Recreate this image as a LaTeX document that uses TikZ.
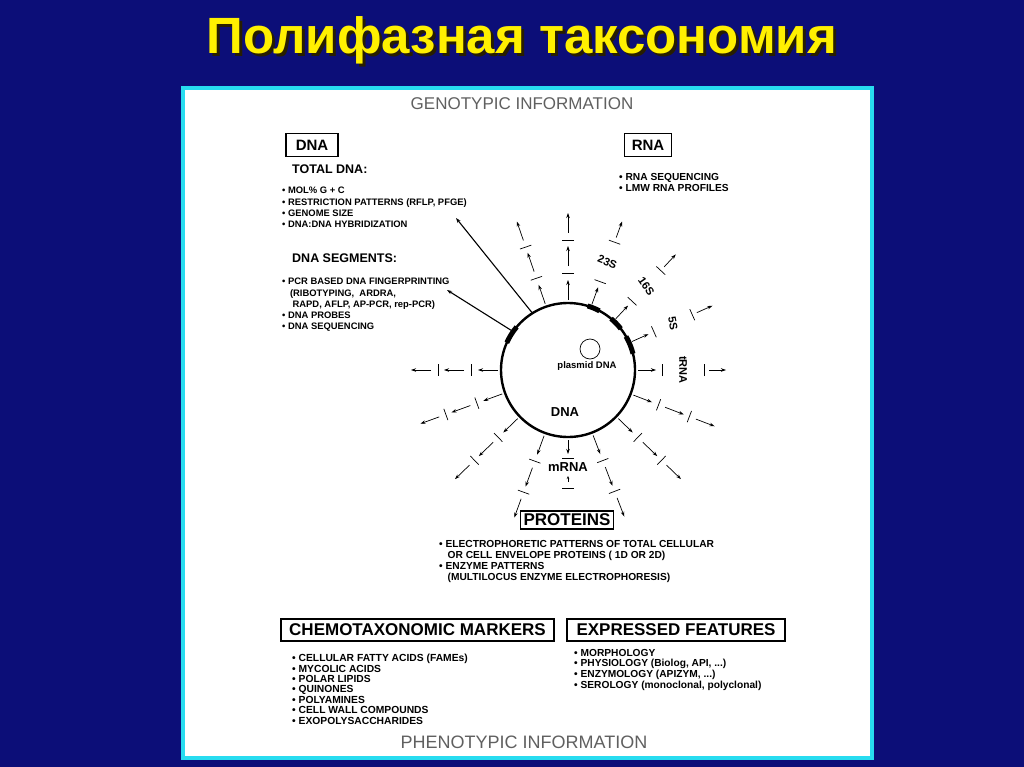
\documentclass[tikz,border=0pt]{standalone}
\usepackage{fontspec}
\setmainfont{Liberation Sans}
\usetikzlibrary{calc,arrows.meta}
\begin{document}
\begin{tikzpicture}[x=1pt,y=-1pt,
  small/.style={font=\bfseries\fontsize{9.4}{11.3}\selectfont,align=left,anchor=north west,inner sep=0pt},
  hbox/.style={draw,line width=1.3pt,font=\bfseries,inner sep=3pt},
  arr/.style={-{Stealth[length=5pt,width=3.5pt]},line width=0.7pt},
  lbl/.style={font=\bfseries\fontsize{11}{12}\selectfont,inner sep=0pt}]
\fill[fill={rgb,255:red,12;green,14;blue,120}] (0,0) rectangle (1024,767);
\useasboundingbox (0,0) rectangle (1024,767);
\node[font=\bfseries\fontsize{51}{54}\selectfont,text={rgb,255:red,40;green,30;blue,0},inner sep=0pt] at (525,43) {Полифазная таксономия};
\node[font=\bfseries\fontsize{51}{54}\selectfont,text={rgb,255:red,255;green,240;blue,0},inner sep=0pt] (title) at (522,40) {Полифазная таксономия};
\draw[line width=4pt,draw={rgb,255:red,40;green,220;blue,240},fill=white] (183,88) rectangle (872,758);
\node[font=\fontsize{17}{18}\selectfont,text=gray!75!black] (geno) at (522,104) {GENOTYPIC INFORMATION};
\node[font=\fontsize{18}{19}\selectfont,text=gray!75!black] (pheno) at (524,742) {PHENOTYPIC INFORMATION};
% DNA side
\node[hbox,font=\bfseries\fontsize{15}{16}\selectfont,minimum width=52pt,minimum height=23pt] (dnabox) at (312,145) {DNA};
\node[small,font=\bfseries\fontsize{12.5}{13}\selectfont] (tot) at (292,165) {TOTAL DNA:};
\node[small] (totl) at (282,187) {• MOL\% G + C\\• RESTRICTION PATTERNS (RFLP, PFGE)\\• GENOME SIZE\\• DNA:DNA HYBRIDIZATION};
\node[small,font=\bfseries\fontsize{12.5}{13}\selectfont] (seg) at (292,254) {DNA SEGMENTS:};
\node[small] (segl) at (282,278) {• PCR BASED DNA FINGERPRINTING\\\ \ \ (RIBOTYPING,\ \ ARDRA,\\\ \ \ \ RAPD, AFLP, AP-PCR, rep-PCR)\\• DNA PROBES\\• DNA SEQUENCING};
\node[hbox,font=\bfseries\fontsize{15}{16}\selectfont,minimum width=47pt,minimum height=23pt] (rnabox) at (648,145) {RNA};
\node[small,font=\bfseries\fontsize{10.2}{11}\selectfont] (rnal) at (619,173) {• RNA SEQUENCING\\• LMW RNA PROFILES};
% circle
\node[draw,circle,line width=2.4pt,minimum size=134pt,inner sep=0pt] (c) at (568,370) {};
\coordinate (cc) at (568,370);
\foreach \a/\b in {140/156,62/73,38/50,14/30}
  \draw[line width=5pt] ($(cc)+(-\a:67)$) arc[start angle=-\a,end angle=-\b,radius=67];
\node[draw,circle,minimum size=20pt,inner sep=0pt,line width=0.7pt] (pl) at (590,349) {};
\node[lbl,font=\bfseries\fontsize{9.5}{10}\selectfont] (plt) at (587,366) {plasmid DNA};
\node[lbl,font=\bfseries\fontsize{13}{14}\selectfont] (dnat) at (565,412) {DNA};
% spokes full
\foreach \a in {90,109,180,200,224,250,291,316,339}{
  \draw[arr] ($(cc)+(-\a:70)$) -- ($(cc)+(-\a:90)$);
  \draw[arr] ($(cc)+(-\a:104)$) -- ($(cc)+(-\a:124)$);
  \draw[arr] ($(cc)+(-\a:137)$) -- ($(cc)+(-\a:157)$);
  \draw[line width=0.7pt] ($(cc)+(-\a:97)+(-\a+90:6)$) -- ($(cc)+(-\a:97)+(-\a-90:6)$);
  \draw[line width=0.7pt] ($(cc)+(-\a:130)+(-\a+90:6)$) -- ($(cc)+(-\a:130)+(-\a-90:6)$);
}
% labeled spokes
\foreach \a/\t/\r in {70/23S/-22,47/16S/-55,24/5S/-80,0/tRNA/-90}{
  \draw[arr] ($(cc)+(-\a:70)$) -- ($(cc)+(-\a:88)$);
  \draw[line width=0.7pt] ($(cc)+(-\a:94)+(-\a+90:6)$) -- ($(cc)+(-\a:94)+(-\a-90:6)$);
  \node[lbl,rotate=\r] at ($(cc)+(-\a:115)$) {\t};
  \draw[line width=0.7pt] ($(cc)+(-\a:136)+(-\a+90:6)$) -- ($(cc)+(-\a:136)+(-\a-90:6)$);
  \draw[arr] ($(cc)+(-\a:141)$) -- ($(cc)+(-\a:158)$);
}
\draw[arr] ($(cc)+(0,70)$) -- ($(cc)+(0,84)$);
\draw[line width=0.7pt] ($(cc)+(-6,88)$) -- ($(cc)+(6,88)$);
\node[lbl,font=\bfseries\fontsize{13}{14}\selectfont] (mrna) at (568,467) {mRNA};
\draw[arr,-{Stealth[length=3pt,width=2.5pt]}] ($(cc)+(0,112)$) -- ($(cc)+(0,106)$);
\draw[line width=0.7pt] ($(cc)+(-6,118)$) -- ($(cc)+(6,118)$);
% long arrows
\coordinate (t1) at (456,218);
\coordinate (t2) at (447,290);
\draw[arr,line width=1.1pt] ($(cc)+(-122:67)$) -- (t1);
\draw[arr,line width=1.1pt] ($(cc)+(-145:67)$) -- (t2);
% proteins
\node[hbox,font=\bfseries\fontsize{17}{18}\selectfont] (prot) at (567,520) {PROTEINS};
\node[small,font=\bfseries\fontsize{10.2}{10.9}\selectfont] (protl) at (439,540) {• ELECTROPHORETIC PATTERNS OF TOTAL CELLULAR\\\ \ \ OR CELL ENVELOPE PROTEINS ( 1D OR 2D)\\• ENZYME PATTERNS\\\ \ \ (MULTILOCUS ENZYME ELECTROPHORESIS)};
% bottom
\node[hbox,font=\bfseries\fontsize{17}{18}\selectfont,minimum width=273pt,minimum height=22pt,inner sep=1pt] (chem) at (417.5,630) {CHEMOTAXONOMIC MARKERS};
\node[hbox,font=\bfseries\fontsize{17}{18}\selectfont,minimum width=218pt,minimum height=22pt,inner sep=1pt] (expr) at (676,630) {EXPRESSED FEATURES};
\node[small,font=\bfseries\fontsize{10.3}{10.4}\selectfont] (cheml) at (292,654) {• CELLULAR FATTY ACIDS (FAMEs)\\• MYCOLIC ACIDS\\• POLAR LIPIDS\\• QUINONES\\• POLYAMINES\\• CELL WALL COMPOUNDS\\• EXOPOLYSACCHARIDES};
\node[small,font=\bfseries\fontsize{10.2}{10.6}\selectfont] (exprl) at (574,649) {• MORPHOLOGY\\• PHYSIOLOGY (Biolog, API, ...)\\• ENZYMOLOGY (APIZYM, ...)\\• SEROLOGY (monoclonal, polyclonal)};
\end{tikzpicture}
\end{document}
